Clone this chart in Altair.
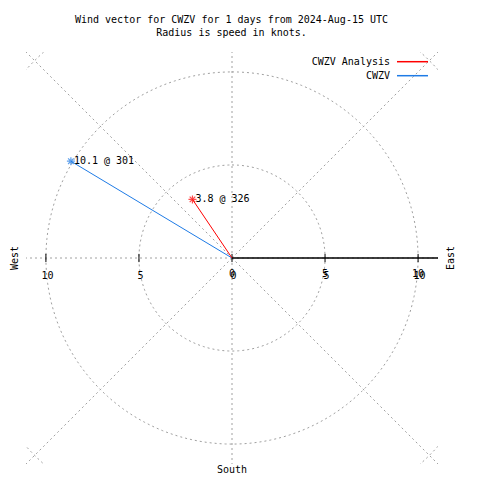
import altair as alt
import numpy as np
import pandas as pd

# ---- data ----
series_names = ["CWZV", "CWZV Analysis"]
series_colors = ["#1e7be6", "#ff0000"]
speeds = [10.1, 3.8]
directions = [301, 326]

tick_values = [-10, -5, 0, 5, 10]
tick_labels = ["10", "5", "0", "5", "10"]
ring_radii = [5, 10, 15]
spoke_angles = [0, 45, 90, 135, 180, 225, 270, 315]

title_lines = ["Wind vector for CWZV for 1 days from 2024-Aug-15 UTC",
               "Radius is speed in knots."]

D = 11.07
W = 412
FONT = "DejaVu Sans Mono"
GRID = "#a0a0a0"

xs = alt.Scale(domain=[-D, D], nice=False, zero=False)
ys = alt.Scale(domain=[-D, D], nice=False, zero=False)

# rings
ring_rows = []
for r in ring_radii:
    for i, a in enumerate(np.arange(0, 361, 2)):
        t = np.deg2rad(a)
        ring_rows.append({"r": r, "i": i, "x": r * np.sin(t), "y": r * np.cos(t)})
rings_df = pd.DataFrame(ring_rows)

spokes_df = pd.DataFrame({
    "x": 0.0, "y": 0.0,
    "x2": [16 * np.sin(np.deg2rad(a)) for a in spoke_angles],
    "y2": [16 * np.cos(np.deg2rad(a)) for a in spoke_angles],
})

vec_df = pd.DataFrame({
    "name": series_names,
    "color": series_colors,
    "speed": speeds,
    "dir": directions,
})
vec_df["x"] = vec_df["speed"] * np.sin(np.deg2rad(vec_df["dir"]))
vec_df["y"] = vec_df["speed"] * np.cos(np.deg2rad(vec_df["dir"]))
vec_df["x0"] = 0.0
vec_df["y0"] = 0.0
vec_df["label"] = [f"{s} @ {d}" for s, d in zip(speeds, directions)]

ticks_df = pd.DataFrame({"v": tick_values, "label": tick_labels,
                         "y": -0.22, "y2": 0.22, "y0": 0.0})
right_ticks_df = ticks_df[ticks_df["v"] >= 0]

rings = alt.Chart(rings_df).mark_line(
    clip=True, color=GRID, strokeWidth=1, strokeDash=[2, 3]
).encode(
    x=alt.X("x:Q", scale=xs, axis=None),
    y=alt.Y("y:Q", scale=ys, axis=None),
    detail="r:N", order="i:Q",
)

spokes = alt.Chart(spokes_df).mark_rule(
    clip=True, color=GRID, strokeWidth=1, strokeDash=[2, 3]
).encode(
    x=alt.X("x:Q", scale=xs, axis=None), y=alt.Y("y:Q", scale=ys, axis=None),
    x2="x2:Q", y2="y2:Q",
)

axis_line = alt.Chart(pd.DataFrame({"x": [0.0], "x2": [D], "y": [0.0]})).mark_rule(
    color="black", strokeWidth=1.5
).encode(
    x=alt.X("x:Q", scale=xs, axis=None), x2="x2:Q",
    y=alt.Y("y:Q", scale=ys, axis=None),
)

tick_marks = alt.Chart(ticks_df).mark_rule(color="black", strokeWidth=1).encode(
    x=alt.X("v:Q", scale=xs, axis=None),
    y=alt.Y("y:Q", scale=ys, axis=None), y2="y2:Q",
)

tick_text = alt.Chart(ticks_df).mark_text(
    font=FONT, fontSize=10, color="black", dx=1.5, dy=18, baseline="middle"
).encode(
    x=alt.X("v:Q", scale=xs, axis=None),
    y=alt.Y("y0:Q", scale=ys, axis=None), text="label:N",
)

tick_text2 = alt.Chart(right_ticks_df).mark_text(
    font=FONT, fontSize=10, color="black", dx=0, dy=15.5, baseline="middle"
).encode(
    x=alt.X("v:Q", scale=xs, axis=None),
    y=alt.Y("y0:Q", scale=ys, axis=None), text="label:N",
)

vectors = alt.Chart(vec_df).mark_rule(strokeWidth=1).encode(
    x=alt.X("x0:Q", scale=xs, axis=None), y=alt.Y("y0:Q", scale=ys, axis=None),
    x2="x:Q", y2="y:Q",
    color=alt.Color("color:N", scale=None),
)

star = "M-1,0L1,0M0,-1L0,1M-0.7,-0.7L0.7,0.7M-0.7,0.7L0.7,-0.7"
points = alt.Chart(vec_df).mark_point(shape=star, size=64, filled=False, strokeWidth=1.2).encode(
    x=alt.X("x:Q", scale=xs, axis=None), y=alt.Y("y:Q", scale=ys, axis=None),
    color=alt.Color("color:N", scale=None),
)

point_labels = alt.Chart(vec_df).mark_text(
    font=FONT, fontSize=10, color="black", align="left", baseline="middle", dx=3
).encode(
    x=alt.X("x:Q", scale=xs, axis=None), y=alt.Y("y:Q", scale=ys, axis=None),
    text="label:N",
)

# legend (custom, text to the left of line)
leg_df = pd.DataFrame({"name": series_names[::-1], "color": series_colors[::-1],
                       "ly": [9.7, 23.7]})
leg_text = alt.Chart(leg_df).mark_text(
    font=FONT, fontSize=10, color="black", align="right", baseline="middle"
).encode(x=alt.value(364), y=alt.Y("ly:Q", scale=None), text="name:N")
leg_line = alt.Chart(leg_df).mark_rule(strokeWidth=1.5).encode(
    x=alt.value(371), x2=alt.value(402), y=alt.Y("ly:Q", scale=None),
    color=alt.Color("color:N", scale=None),
)

# titles and direction labels
t_df = pd.DataFrame({"text": title_lines, "ty": [-32, -19]})
title_text = alt.Chart(t_df).mark_text(
    font=FONT, fontSize=10, color="black", align="center", baseline="middle"
).encode(x=alt.value(205.5), y=alt.Y("ty:Q", scale=None), text="text:N")

dir_df = pd.DataFrame({"text": ["West", "East", "South"],
                       "px": [-11, 425, 206], "py": [206, 206, 418],
                       "ang": [270, 270, 0]})
dir_text = alt.Chart(dir_df).mark_text(
    font=FONT, fontSize=10, color="black", align="center", baseline="middle"
).encode(
    x=alt.X("px:Q", scale=None), y=alt.Y("py:Q", scale=None), text="text:N",
    angle=alt.Angle("ang:Q", scale=None),
)

chart = alt.layer(
    rings, spokes, axis_line, tick_marks, tick_text, tick_text2,
    vectors, points, point_labels, leg_text, leg_line, title_text, dir_text,
).properties(
    width=W, height=W,
    autosize=alt.AutoSizeParams(type="none"),
    padding={"left": 18, "top": 44, "right": 28, "bottom": 12},
    background="white",
).configure_view(stroke=None)

chart.save("out.html", embed_options={"renderer": "svg", "actions": False})
